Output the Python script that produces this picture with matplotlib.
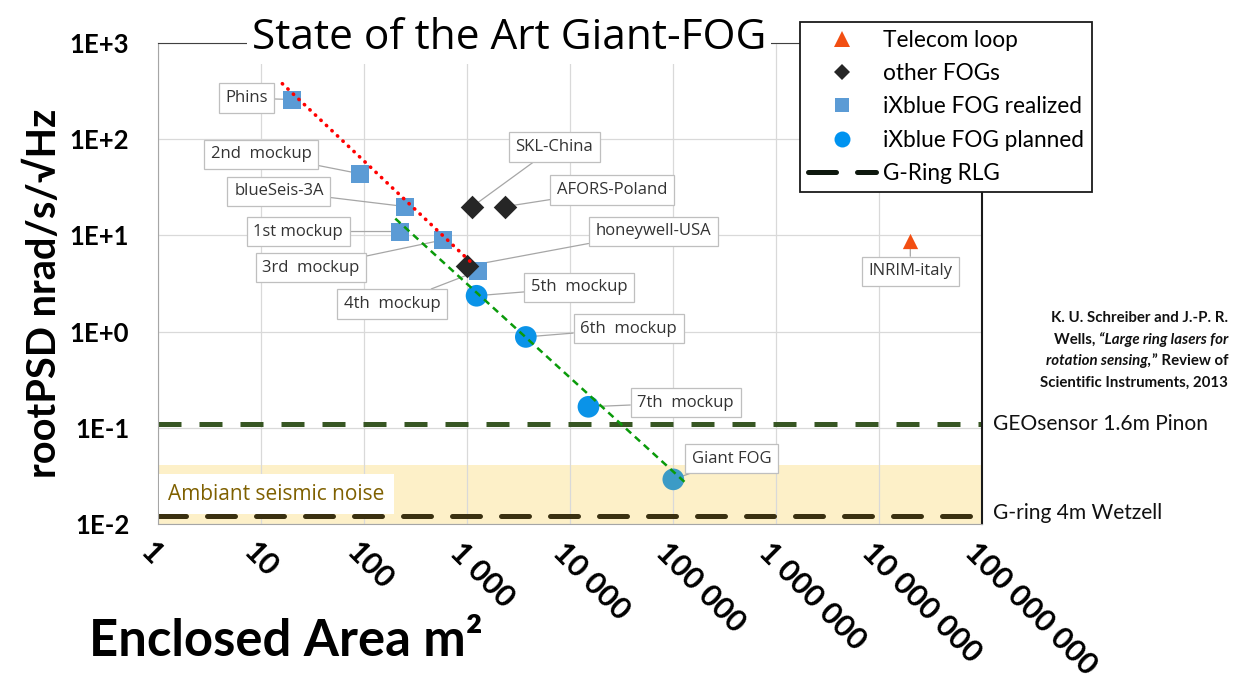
import matplotlib
matplotlib.use('Agg')
import matplotlib.pyplot as plt
import matplotlib.transforms as mtransforms
from matplotlib.lines import Line2D
from matplotlib.ticker import FixedLocator, FixedFormatter, NullLocator

# enclosed area (m2) vs rootPSD (nrad/s/sqrtHz)
realized_names = ['Phins', '2nd  mockup', 'blueSeis-3A', '1st mockup', '3rd  mockup', '4th  mockup']
realized_area = [20, 90, 250, 220, 580, 1280]
realized_psd = [260, 44, 20, 11, 9.0, 4.3]

planned_names = ['5th  mockup', '6th  mockup', '7th  mockup', 'Giant FOG']
planned_area = [1230, 3700, 15000, 100000]
planned_psd = [2.36, 0.88, 0.165, 0.029]

other_names = ['SKL-China', 'AFORS-Poland', 'honeywell-USA']
other_area = [1120, 2340, 1000]
other_psd = [20, 20, 4.8]

telecom_names = ['INRIM-italy']
telecom_area = [2.0e7]
telecom_psd = [8.8]

trend_realized_area = [16, 1100]
trend_realized_psd = [380, 5.2]
trend_planned_area = [200, 130000]
trend_planned_psd = [15, 0.027]

geosensor_level = 0.108
gring_level = 0.012
seismic_noise_top = 0.041

x_ticks = [1, 10, 100, 1e3, 1e4, 1e5, 1e6, 1e7, 1e8]
x_tick_labels = ['1', '10', '100', '1 000', '10 000', '100 000',
                 '1 000 000', '10 000 000', '100 000 000']
y_ticks = [1e-2, 1e-1, 1, 10, 100, 1000]
y_tick_labels = ['1E-2', '1E-1', '1E+0', '1E+1', '1E+2', '1E+3']

# label box offsets from their point, in points
label_offsets = {
    'Phins': (-33, 1), '2nd  mockup': (-71, 14), 'blueSeis-3A': (-91, 11),
    '1st mockup': (-73, 0), '3rd  mockup': (-95, -20), '4th  mockup': (-62, -24),
    'honeywell-USA': (134, 25), 'SKL-China': (59, 43), 'AFORS-Poland': (77, 12),
    '5th  mockup': (74, 6), '6th  mockup': (74, 6), '7th  mockup': (70, 3),
    'Giant FOG': (42, 15), 'INRIM-italy': (0, -22),
}

SQ_COL = '#5B9BD5'
CIRC_COL = '#0A93E8'
GIANT_COL = '#3C9BC6'
DIA_COL = '#262626'
TRI_COL = '#F24E12'

fig = plt.figure(figsize=(12.39, 6.93), dpi=100)
ax = fig.add_axes([158.3 / 1239, 1 - 523.8 / 693, 824 / 1239, 480.5 / 693])
ax.set_xscale('log')
ax.set_yscale('log')
ax.set_xlim(1, 1e8)
ax.set_ylim(1e-2, 1e3)

ax.axhspan(1e-2, seismic_noise_top, color='#FDF0C8', lw=0, zorder=0.2)
ax.grid(True, color='#D9D9D9', lw=0.9)
ax.set_axisbelow(True)

ax.axhline(geosensor_level, color='#375623', lw=3.6, dashes=(4.6, 3.6), zorder=2)
ax.axhline(gring_level, color='#3A3010', lw=3.6, dashes=(5.6, 4.2),
           dash_capstyle='round', zorder=2)

ax.scatter(realized_area, realized_psd, marker='s', s=13 ** 2, color=SQ_COL, lw=0, zorder=3)
ax.scatter(other_area, other_psd, marker='D', s=12 ** 2, color=DIA_COL, lw=0, zorder=3)
planned_cols = [CIRC_COL] * 3 + [GIANT_COL]
ax.scatter(planned_area, planned_psd, marker='o', s=15.6 ** 2, color=planned_cols, lw=0, zorder=3)
ax.scatter(telecom_area, telecom_psd, marker='^', s=11 ** 2, color=TRI_COL, lw=0, zorder=3)

ax.plot(trend_realized_area, trend_realized_psd, color='#FF0000', lw=2.6,
        linestyle=(0, (0.1, 2.0)), dash_capstyle='round', zorder=4)
ax.plot(trend_planned_area, trend_planned_psd, color='#0A9A0A', lw=1.8,
        dashes=(2.8, 2.0), zorder=4)

all_names = realized_names + planned_names + other_names + telecom_names
all_area = realized_area + planned_area + other_area + telecom_area
all_psd = realized_psd + planned_psd + other_psd + telecom_psd
for name, xa, yp in zip(all_names, all_area, all_psd):
    ax.annotate(name, xy=(xa, yp), xytext=label_offsets[name], textcoords='offset points',
                ha='center', va='center', fontsize=12, family='Open Sans', color='#333333',
                bbox=dict(boxstyle='square,pad=0.4', fc='white', ec='#BFBFBF', lw=0.9),
                arrowprops=dict(arrowstyle='-', color='#A6A6A6', lw=0.9, shrinkA=0, shrinkB=0),
                zorder=2.5)

ax.text(0.012, 0.062, 'Ambiant seismic noise', transform=ax.transAxes, ha='left', va='center',
        fontsize=15, family='Open Sans', color='#7F6000', zorder=2.6,
        bbox=dict(boxstyle='square,pad=0.45', fc='white', ec='none'))

blend = mtransforms.blended_transform_factory(ax.transAxes, ax.transData)
ax.text(1.013, geosensor_level, 'GEOsensor 1.6m Pinon', transform=blend, ha='left', va='center',
        fontsize=15.1, family='Lato', color='#111111', clip_on=False)
ax.text(1.013, gring_level * 1.07, 'G-ring 4m Wetzell', transform=blend, ha='left', va='center',
        fontsize=15.1, family='Lato', color='#111111', clip_on=False)

# axes styling
for side in ['left', 'bottom']:
    ax.spines[side].set_color('#A6A6A6')
ax.spines['top'].set_color('#404040')
ax.spines['right'].set_color('#1A1A1A')
ax.spines['right'].set_linewidth(1.5)

ax.xaxis.set_major_locator(FixedLocator(x_ticks))
ax.xaxis.set_major_formatter(FixedFormatter(x_tick_labels))
ax.xaxis.set_minor_locator(NullLocator())
ax.yaxis.set_major_locator(FixedLocator(y_ticks))
ax.yaxis.set_major_formatter(FixedFormatter(y_tick_labels))
ax.yaxis.set_minor_locator(NullLocator())
ax.tick_params(axis='both', length=0)
ax.tick_params(axis='y', pad=21)
ax.tick_params(axis='x', pad=17)
for lab in ax.get_yticklabels():
    lab.set_fontsize(18.5)
    lab.set_fontweight('bold')
    lab.set_family('Lato')
shift = mtransforms.ScaledTranslation(-9 / 72, 0, fig.dpi_scale_trans)
for lab in ax.get_xticklabels():
    lab.set_fontsize(22)
    lab.set_fontweight('bold')
    lab.set_family('Lato')
    lab.set_rotation(-45)
    lab.set_rotation_mode('anchor')
    lab.set_ha('left')
    lab.set_va('center')
    lab.set_transform(lab.get_transform() + shift)

fig.text(45 / 1239, 1 - 293 / 693, 'rootPSD nrad/s/√Hz', rotation=90, ha='center', va='center',
         fontsize=28.5, fontweight='bold', family='Lato')
fig.text(286 / 1239, 1 - 641 / 693, 'Enclosed Area m²', ha='center', va='center',
         fontsize=36.5, fontweight='bold', family='Lato')

fig.text(509 / 1239, 1 - 38 / 693, 'State of the Art Giant-FOG', ha='center', va='center',
         fontsize=30.5, family='Open Sans', color='black', zorder=5,
         bbox=dict(boxstyle='square,pad=0.12', fc='white', ec='none'))

# legend
handles = [
    Line2D([], [], ls='none', marker='^', ms=11, color=TRI_COL, mew=0),
    Line2D([], [], ls='none', marker='D', ms=8.5, color=DIA_COL, mew=0),
    Line2D([], [], ls='none', marker='s', ms=10.5, color=SQ_COL, mew=0),
    Line2D([], [], ls='none', marker='o', ms=11.5, color='#0093F0', mew=0),
    Line2D([], [], color='#0E180E', lw=3.6, dashes=(5.6, 4.2), dash_capstyle='round'),
]
labels = ['Telecom loop', 'other FOGs', 'iXblue FOG realized', 'iXblue FOG planned', 'G-Ring RLG']
leg = fig.legend(handles, labels, loc='upper left', bbox_to_anchor=(800 / 1239, 1 - 22 / 693),
                 borderaxespad=0, borderpad=0.35, handlelength=3.0, handletextpad=0.3,
                 labelspacing=0.54, fancybox=False, framealpha=1, edgecolor='#1A1A1A',
                 prop={'family': 'Lato', 'size': 16.3})
leg.get_frame().set_linewidth(1.3)
leg.set_zorder(6)

# reference
cx = 1228 / 1239
cite_kw = dict(fontsize=10.8, family='Lato', fontweight='bold', color='#111111')
fig.text(cx, 1 - 318 / 693, 'K. U. Schreiber and J.-P. R.', ha='right', va='center', **cite_kw)
t2 = fig.text(cx, 1 - 339.5 / 693, '“Large ring lasers for', ha='right', va='center',
              style='italic', **cite_kw)
ax.annotate('Wells, ', xy=(0, 0), xycoords=t2, ha='right', va='bottom',
            annotation_clip=False, **cite_kw)
t3 = fig.text(cx, 1 - 361 / 693, '” Review of', ha='right', va='center', **cite_kw)
ax.annotate('rotation sensing,', xy=(0, 0), xycoords=t3, ha='right', va='bottom', style='italic',
            annotation_clip=False, **cite_kw)
fig.text(cx, 1 - 382.5 / 693, 'Scientific Instruments, 2013', ha='right', va='center', **cite_kw)

fig.savefig('out.png', dpi=100)
